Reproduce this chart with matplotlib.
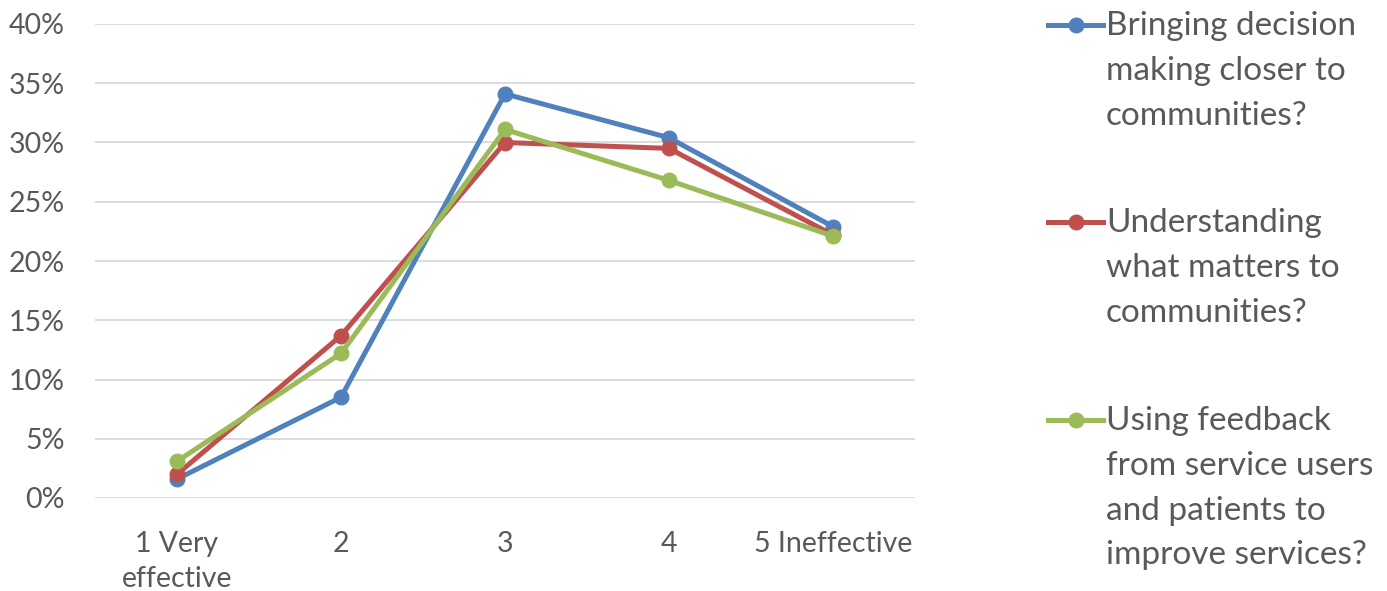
import matplotlib
matplotlib.use('Agg')
import matplotlib.pyplot as plt
from matplotlib.lines import Line2D
from matplotlib.ticker import PercentFormatter

plt.rcParams['font.family'] = ['Lato', 'DejaVu Sans']

categories = ["1 Very\neffective", "2", "3", "4", "5 Ineffective"]
series_labels = [
    "Bringing decision\nmaking closer to\ncommunities?",
    "Understanding\nwhat matters to\ncommunities?",
    "Using feedback\nfrom service users\nand patients to\nimprove services?",
]
bringing_decisions = [0.016, 0.085, 0.341, 0.304, 0.229]
understanding_matters = [0.020, 0.137, 0.300, 0.295, 0.222]
using_feedback = [0.031, 0.122, 0.311, 0.268, 0.221]
colors = ["#4F81BD", "#C0504D", "#9BBB59"]

text_color = "#595959"

fig = plt.figure(figsize=(13.87, 5.91), dpi=100)
ax = fig.add_axes([95 / 1387, 1 - 498 / 591, 820 / 1387, 474 / 591])

x = list(range(len(categories)))
all_series = [bringing_decisions, understanding_matters, using_feedback]
for values, color in zip(all_series, colors):
    ax.plot(x, values, color=color, linewidth=3.6, marker='o', markersize=10.5,
            solid_joinstyle='round', zorder=3)

ax.set_xlim(-0.5, len(categories) - 0.5)
ax.set_ylim(0, 0.40)
ax.set_yticks([i * 0.05 for i in range(9)])
ax.yaxis.set_major_formatter(PercentFormatter(1.0, decimals=0))
ax.set_xticks(x)
ax.set_xticklabels(categories, linespacing=1.4)
ax.tick_params(axis='both', length=0, labelsize=20.5, colors=text_color)
ax.tick_params(axis='y', pad=22)
ax.tick_params(axis='x', pad=24)
for lbl in ax.get_yticklabels():
    lbl.set_horizontalalignment('right')
ax.grid(axis='y', color='#d9d9d9', linewidth=1.3)
ax.set_axisbelow(True)
for spine in ax.spines.values():
    spine.set_visible(False)

# legend drawn by hand so each marker sits beside the first text line
entry_tops = [25, 222, 420]
for label, color, top in zip(series_labels, colors, entry_tops):
    y = 1 - top / 591
    fig.add_artist(Line2D([1048 / 1387, 1103 / 1387], [y, y], color=color,
                          linewidth=3.6, transform=fig.transFigure))
    fig.add_artist(Line2D([1075.5 / 1387], [y], color=color, marker='o',
                          markersize=10.5, transform=fig.transFigure))
    fig.text(1106 / 1387, y + 0.024, label, fontsize=24, color=text_color,
             va='top', ha='left', linespacing=1.62)

fig.savefig("out.png", dpi=100)
